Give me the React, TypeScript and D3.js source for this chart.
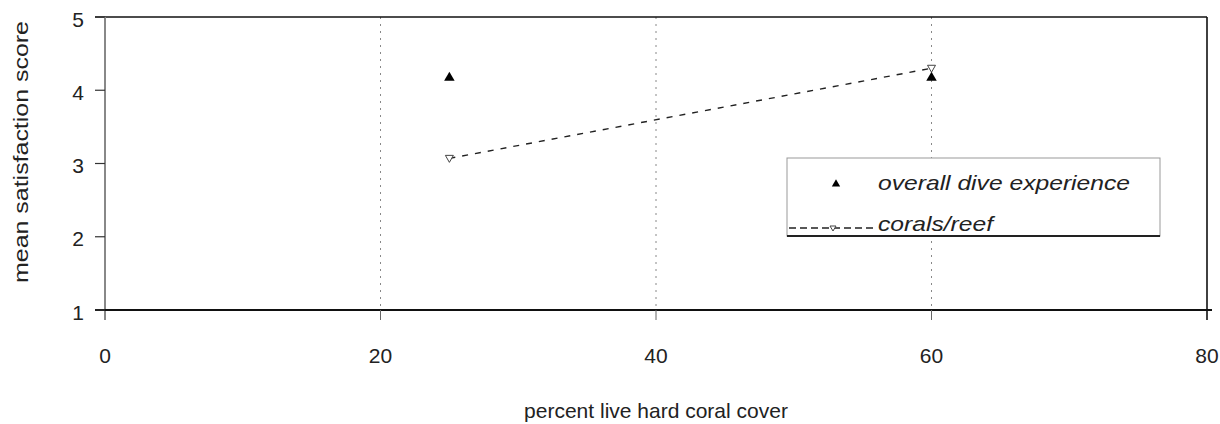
import React from "react";
import * as d3 from "d3";

const xTicks = [0, 20, 40, 60, 80];
const yTicks = [1, 2, 3, 4, 5];
const gridX = [20, 40, 60];
const overallX = [25, 60];
const overallY = [4.17, 4.17];
const coralsX = [25, 60];
const coralsY = [3.07, 4.3];
const legendLabels = ["overall dive experience", "corals/reef"];
const xTitle = "percent live hard coral cover";
const yTitle = "mean satisfaction score";

export default function App() {
  const W = 1220, H = 424;
  const x = d3.scaleLinear().domain([0, 80]).range([105, 1207]);
  const y = d3.scaleLinear().domain([1, 5]).range([310, 17]);
  const font = "Liberation Sans, Arial, sans-serif";
  const tri = d3.symbol().type(d3.symbolTriangle).size(48)();
  const line = d3.line<number>().x((_, i) => x(coralsX[i])).y((d) => y(d));
  const downTri = "M-4,-3L4,-3L0,4Z";
  return (
    <svg width={W} height={H} style={{ position: "absolute", left: 0, top: 0 }} fontFamily={font}>
      <rect width={W} height={H} fill="#fff" />
      {gridX.map((g) => (
        <line key={g} x1={x(g)} x2={x(g)} y1={y(5)} y2={y(1)} stroke="#888" strokeWidth={1} strokeDasharray="2,5" />
      ))}
      <line x1={95} x2={x(80)} y1={y(5)} y2={y(5)} stroke="#111" strokeWidth={1.6} />
      <line x1={x(80)} x2={x(80)} y1={y(5)} y2={y(1) + 10} stroke="#111" strokeWidth={1.6} />
      <line x1={x(0)} x2={x(0)} y1={y(5)} y2={y(1) + 10} stroke="#888" strokeWidth={2} />
      <line x1={95} x2={x(80) + 5} y1={y(1)} y2={y(1)} stroke="#111" strokeWidth={2} />
      {yTicks.map((t) => (
        <g key={t}>
          <line x1={95} x2={x(0)} y1={y(t)} y2={y(t)} stroke="#333" strokeWidth={1.2} />
          <text x={84} y={y(t) + 2} textAnchor="end" dominantBaseline="central" fontSize={21} fill="#222">{t}</text>
        </g>
      ))}
      {xTicks.map((t) => (
        <g key={t}>
          {t > 0 && t < 80 && (
            <line x1={x(t)} x2={x(t)} y1={y(1)} y2={y(1) + 10} stroke="#666" strokeWidth={1} />
          )}
          <text x={x(t)} y={363} textAnchor="middle" fontSize={21} fill="#222">{t}</text>
        </g>
      ))}
      <text x={656} y={418} textAnchor="middle" fontSize={21} fill="#222">{xTitle}</text>
      <text transform={`translate(28,152) rotate(-90)`} textAnchor="middle" fontSize={21} fill="#222" textLength={262} lengthAdjust="spacingAndGlyphs">{yTitle}</text>
      <path d={line(coralsY) || ""} fill="none" stroke="#222" strokeWidth={1.4} strokeDasharray="6,7" />
      {coralsY.map((v, i) => (
        <path key={i} d={downTri} transform={`translate(${x(coralsX[i])},${y(v)})`} fill="#fff" stroke="#444" strokeWidth={1} />
      ))}
      {overallY.map((v, i) => (
        <path key={i} d={tri} transform={`translate(${x(overallX[i])},${y(v)})`} fill="#000" />
      ))}
      <rect x={787} y={158} width={373} height={78} fill="#fff" stroke="#999" strokeWidth={1} />
      <line x1={787} x2={1160} y1={236} y2={236} stroke="#222" strokeWidth={2} />
      <path d={d3.symbol().type(d3.symbolTriangle).size(30)() || ""} transform="translate(836,184)" fill="#000" />
      <text x={878} y={190} fontSize={21} fontStyle="italic" fill="#222" textLength={252} lengthAdjust="spacingAndGlyphs">{legendLabels[0]}</text>
      <line x1={789} x2={874} y1={228} y2={228} stroke="#222" strokeWidth={1.4} strokeDasharray="7,4" />
      <path d="M-3,-2L3,-2L0,3Z" transform="translate(833,228)" fill="#fff" stroke="#444" strokeWidth={1} />
      <text x={878} y={231} fontSize={21} fontStyle="italic" fill="#222" textLength={115} lengthAdjust="spacingAndGlyphs">{legendLabels[1]}</text>
    </svg>
  );
}
